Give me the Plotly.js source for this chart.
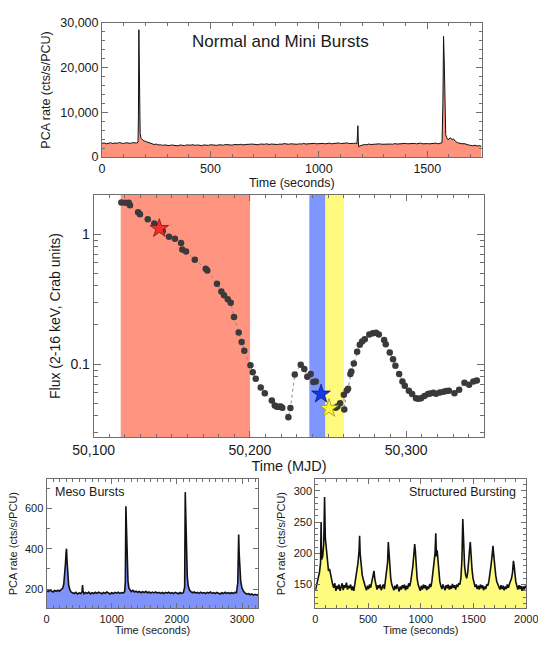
<!DOCTYPE html>
<html><head><meta charset="utf-8">
<script src="https://cdn.plot.ly/plotly-3.0.1.min.js"></script>
<style>html,body{margin:0;padding:0;background:#fff}#chart{width:538px;height:648px}</style>
</head><body><div id="chart"></div>
<script>
// ---- Top panel: Normal and Mini Bursts (time in s, PCA rate cts/s/PCU)
const topT = [0,10,20,30,40,50,60,70,80,90,100,110,120,130,140,150,160,166,168,170,172,174,176,180,190,200,210,220,230,240,250,260,270,280,290,300,310,320,330,340,350,360,370,380,390,400,410,420,430,440,450,460,470,480,490,500,510,520,530,540,550,560,570,580,590,600,610,620,630,640,650,660,670,680,690,700,710,720,730,740,750,760,770,780,790,800,810,820,830,840,850,860,870,880,890,900,910,920,930,940,950,960,970,980,990,1000,1010,1020,1030,1040,1050,1060,1070,1080,1090,1100,1110,1120,1130,1140,1150,1160,1170,1176,1178,1180,1182,1184,1190,1200,1210,1220,1230,1240,1250,1260,1270,1280,1290,1300,1310,1320,1330,1340,1350,1360,1370,1380,1390,1400,1410,1420,1430,1440,1450,1460,1470,1480,1490,1500,1510,1520,1530,1540,1550,1560,1568,1572,1575,1578,1581,1585,1590,1595,1600,1605,1610,1615,1620,1625,1630,1640,1650,1660,1670,1680,1690,1700,1710,1720,1730,1740,1750];
const topRate = [3050,3150,2950,3100,3200,3000,3150,3050,3250,3100,3000,3200,3100,3050,3200,3100,3150,3300,9000,28500,18000,8000,5200,4200,3700,3500,3300,3200,3000,2800,2900,2700,2750,2600,2700,2650,2550,2700,2600,2650,2500,2700,2600,2550,2700,2600,2650,2750,2600,2700,2650,2550,2700,2650,2600,2750,2650,2700,2600,2750,2700,2650,2800,2700,2750,2650,2800,2700,2750,2850,2700,2800,2750,2850,2900,2800,2850,2750,2900,2800,2850,2950,2800,2900,2850,2950,2800,2900,2850,3000,2900,2850,2950,2900,3000,2850,2950,2900,3050,2900,2950,3000,2900,3050,2950,3000,2900,3050,2950,3000,3100,2950,3050,3000,3150,3000,3100,3050,3150,3000,3100,3050,3100,3000,5000,7000,3500,2300,2500,2700,2800,2750,2900,2800,2850,2900,2800,2950,2850,2900,2850,2950,2900,2850,3000,2900,2950,3000,2900,3050,2950,3000,2900,3050,2950,3000,3100,2950,3050,3000,2950,3050,3000,3100,2950,3050,3200,12000,27000,22000,9000,5000,4300,3900,4000,4300,4100,3900,4100,3700,3500,3200,3000,2950,3000,2800,2700,2600,2500,2650,2450,2550,2400];

// ---- Middle panel: light curve (MJD, flux in Crab units)
const mjd = [50117.7,50120.2,50122.4,50123.2,50128.4,50129.6,50134.6,50138.8,50142.0,50144.2,50148.2,50152.0,50155.9,50156.7,50159.1,50164.7,50171.7,50172.7,50178.9,50181.7,50183.4,50185.8,50187.7,50189.8,50192.8,50194.7,50196.4,50200.3,50201.8,50203.7,50206.9,50209.5,50214.0,50215.9,50217.2,50218.6,50219.7,50220.7,50224.6,50225.9,50228.7,50232.5,50234.8,50236.7,50238.9,50240.6,50242.1,50245.5,50250.6,50254.9,50256.0,50257.7,50260.1,50260.4,50262.0,50262.8,50264.3,50264.9,50266.5,50268.6,50270.3,50271.8,50273.5,50276.4,50278.6,50280.7,50282.5,50285.9,50286.9,50289.5,50291.6,50293.1,50295.5,50297.6,50299.1,50301.7,50303.8,50306.3,50307.8,50309.5,50311.7,50314.0,50315.3,50317.4,50319.1,50321.5,50323.8,50325.7,50327.3,50330.9,50333.9,50337.3,50340.3,50343.0,50345.2];
const flux = [1.752,1.74,1.74,1.67,1.476,1.425,1.30,1.208,1.105,1.06,0.954,0.92,0.853,0.762,0.736,0.634,0.541,0.526,0.415,0.362,0.339,0.316,0.296,0.230,0.175,0.148,0.127,0.098,0.0867,0.077,0.0662,0.0598,0.0526,0.0481,0.0469,0.0469,0.0473,0.0461,0.0391,0.0459,0.0833,0.0988,0.0916,0.0798,0.0838,0.0727,0.0736,0.0588,0.0456,0.0461,0.0473,0.0501,0.0581,0.0448,0.0628,0.0646,0.0838,0.0879,0.1012,0.1245,0.1407,0.1496,0.1556,0.169,0.173,0.174,0.169,0.153,0.1425,0.123,0.109,0.097,0.0838,0.0736,0.0681,0.0623,0.0588,0.0547,0.0541,0.0547,0.0568,0.0588,0.0595,0.0601,0.0591,0.0606,0.0612,0.062,0.0623,0.0598,0.0634,0.0718,0.0693,0.0736,0.0749];
const starMjd = [50142.0, 50245.5, 50250.6];
const starFlux = [1.105, 0.0588, 0.0456];
const regionStart = [50117.3, 50238.0, 50248.3];
const regionEnd = [50200.1, 50248.3, 50260.2];

// ---- Bottom-left: Meso Bursts
const mesoT = [0,25,50,75,100,125,150,175,200,225,250,265,280,292,300,307,315,325,340,360,380,400,425,450,475,500,525,545,553,560,575,600,625,650,675,700,725,750,775,800,825,850,875,900,925,950,975,1000,1025,1050,1075,1100,1125,1150,1175,1200,1210,1218,1225,1235,1250,1265,1285,1300,1325,1350,1375,1400,1425,1450,1475,1500,1525,1550,1575,1600,1625,1650,1675,1700,1725,1750,1775,1800,1825,1850,1875,1900,1925,1950,1975,2000,2025,2050,2075,2100,2120,2129,2135,2145,2160,2175,2195,2215,2240,2265,2290,2315,2340,2365,2390,2415,2440,2465,2490,2515,2540,2565,2590,2615,2640,2665,2690,2715,2740,2765,2790,2815,2840,2865,2890,2915,2935,2942,2949,2956,2965,2980,3000,3025,3050,3075,3100,3125,3150,3175,3200,3225,3250];
const mesoRate = [192,188,195,190,186,193,189,195,190,198,205,225,270,330,380,400,340,270,220,195,185,182,178,184,176,181,178,186,220,190,177,183,179,185,176,182,178,184,179,185,180,177,183,179,186,180,176,182,178,184,180,185,179,183,180,188,240,610,500,330,240,205,192,188,194,186,190,184,188,182,187,183,189,182,186,180,185,181,186,180,184,179,183,178,184,180,185,179,183,178,184,180,177,183,179,182,210,680,560,380,260,215,195,188,182,186,180,184,179,185,180,183,178,184,180,186,179,183,178,184,180,176,182,178,184,179,183,178,182,179,184,182,230,420,470,380,300,240,205,188,180,175,178,172,176,170,174,171,173];

// ---- Bottom-right: Structured Bursting
const structT = [0,10,20,30,40,50,55,60,70,80,88,95,105,115,125,135,145,155,165,175,185,195,205,215,225,235,245,255,265,275,285,295,305,315,325,335,345,355,365,375,385,395,405,415,420,425,435,445,455,465,475,485,495,505,515,525,535,545,556,565,575,585,595,605,615,625,635,645,655,665,675,685,692,698,705,715,725,735,745,755,765,775,785,795,805,815,825,835,845,855,865,875,885,895,905,915,925,935,942,948,955,965,975,985,995,1005,1015,1025,1035,1045,1055,1065,1075,1085,1095,1105,1115,1125,1135,1142,1148,1155,1162,1170,1180,1190,1200,1210,1220,1230,1240,1250,1260,1270,1280,1290,1300,1310,1320,1330,1340,1350,1360,1370,1380,1390,1398,1405,1415,1425,1435,1445,1455,1462,1469,1476,1485,1495,1505,1515,1525,1535,1545,1555,1565,1575,1585,1595,1605,1615,1625,1635,1645,1655,1665,1675,1684,1690,1700,1710,1720,1730,1740,1750,1760,1770,1780,1790,1800,1810,1820,1830,1840,1850,1860,1870,1878,1885,1892,1900,1910,1920,1930,1940,1950,1960,1970,1980,1990,2000];
const structRate = [140,148,155,160,170,185,250,190,195,215,290,225,205,180,172,175,165,160,150,145,152,140,148,143,150,140,147,152,141,149,145,153,142,148,144,150,141,147,140,152,160,170,185,205,228,200,180,165,158,150,146,141,148,143,150,145,155,165,172,158,147,142,149,144,150,141,146,150,143,155,168,185,218,200,175,160,150,145,141,148,143,150,144,139,147,142,149,144,150,141,148,143,152,147,155,165,180,200,215,205,180,160,150,145,140,148,142,150,144,149,141,147,143,151,146,155,168,185,200,232,195,205,190,170,155,148,143,150,145,141,149,144,150,142,148,143,151,145,149,142,150,146,152,150,160,190,255,210,180,165,160,170,185,205,218,195,175,160,152,146,150,143,148,142,150,144,149,141,147,143,150,148,155,165,180,195,212,200,180,165,155,150,146,142,149,143,148,141,147,143,150,145,151,155,160,170,188,180,165,155,148,142,149,143,148,140,147,142,148,144];

const FONT = 'Liberation Sans, Arial, Helvetica, sans-serif';
const W = 538, H = 648;
const dx = (a, b) => [a / W, b / W];
const dy = (top, bottom) => [1 - bottom / H, 1 - top / H];
const AX = '#6e6e6e';
const TXT = '#1a1a1a';
function f(size) { return {family: FONT, size: size, color: TXT, weight: 'normal'}; }
function axisBase(extra) {
  return Object.assign({
    showgrid: false, zeroline: false, showline: true, linecolor: AX, linewidth: 1,
    mirror: 'allticks', ticks: 'inside', ticklen: 6, tickcolor: AX, tickwidth: 1,
    ticklabeloverflow: 'allow', tickfont: f(12),
  }, extra);
}

const regionColors = ['#ff9580', '#8096ff', '#fffa7d'];
const shapes = regionStart.map((s, i) => ({
  type: 'rect', xref: 'x2', yref: 'y2 domain', x0: s, x1: regionEnd[i], y0: 0, y1: 1,
  fillcolor: regionColors[i], line: {width: 0}, layer: 'below'
}));

const traces = [
  {x: topT, y: topRate, xaxis: 'x', yaxis: 'y', type: 'scatter', mode: 'lines',
   fill: 'tozeroy', fillcolor: '#ff927c', line: {color: '#111', width: 1}, hoverinfo: 'skip'},
  {x: mjd, y: flux, xaxis: 'x2', yaxis: 'y2', type: 'scatter', mode: 'lines+markers',
   line: {color: '#8a8a8a', width: 1, dash: 'dot'},
   marker: {color: '#3a3a3a', size: 6.5}},
  {x: starMjd, y: starFlux, xaxis: 'x2', yaxis: 'y2', type: 'scatter', mode: 'markers',
   marker: {symbol: 'star', size: 14, color: ['#f0302a', '#1238e8', '#fbf63c'],
            line: {color: ['#8a1010', '#0a1a80', '#9a9420'], width: 0.8}}},
  {x: mesoT, y: mesoRate, xaxis: 'x3', yaxis: 'y3', type: 'scatter', mode: 'lines',
   fill: 'tozeroy', fillcolor: '#7f93fb', line: {color: '#111', width: 1.6}},
  {x: structT, y: structRate, xaxis: 'x4', yaxis: 'y4', type: 'scatter', mode: 'lines',
   fill: 'tozeroy', fillcolor: '#fffb7e', line: {color: '#111', width: 1.6}},
];

const layout = {
  width: W, height: H, margin: {l: 0, r: 0, t: 0, b: 0},
  paper_bgcolor: '#fff', plot_bgcolor: 'rgba(0,0,0,0)', showlegend: false,
  font: {family: FONT, color: TXT},
  xaxis: axisBase({domain: dx(102, 481.5), anchor: 'y', range: [0, 1750], dtick: 500, tick0: 0,
    minor: {dtick: 100, ticklen: 3, tickcolor: AX, ticks: 'inside'},
    tickfont: f(12.5),
    title: {text: 'Time (seconds)', font: f(12.5), standoff: 2}}),
  yaxis: axisBase({domain: dy(23, 157), anchor: 'x', range: [0, 30000], dtick: 10000, tickformat: ',d',
    minor: {dtick: 2000, ticklen: 3, tickcolor: AX, ticks: 'inside'},
    tickfont: f(12.5),
    title: {text: 'PCA rate (cts/s/PCU)', font: f(12.5), standoff: 6}}),
  xaxis2: axisBase({domain: dx(93.7, 484.3), anchor: 'y2', range: [50100, 50350], tickvals: [50100, 50200, 50300],
    tickformat: ',d', minor: {dtick: 10, tick0: 50100, ticklen: 3, tickcolor: AX, ticks: 'inside'},
    tickfont: f(14),
    title: {text: 'Time (MJD)', font: f(14.5), standoff: 0}}),
  yaxis2: axisBase({domain: dy(195, 437), anchor: 'x2', type: 'log', range: [Math.log10(0.0275), Math.log10(2.0)],
    tickvals: [0.1, 1], ticktext: ['0.1', '1'], ticklen: 7,
    minor: {tickvals: [0.03,0.04,0.05,0.06,0.07,0.08,0.09,0.2,0.3,0.4,0.5,0.6,0.7,0.8,0.9,2], ticklen: 4, tickcolor: AX, ticks: 'inside'},
    tickfont: f(14),
    title: {text: 'Flux (2-16 keV, Crab units)', font: f(14), standoff: 6}}),
  xaxis3: axisBase({domain: dx(46.5, 258.3), anchor: 'y3', range: [0, 3250], dtick: 1000, tick0: 0,
    minor: {dtick: 100, ticklen: 3, tickcolor: AX, ticks: 'inside'}, ticklen: 5,
    tickfont: f(11),
    title: {text: 'Time (seconds)', font: f(11), standoff: 1}}),
  yaxis3: axisBase({domain: dy(479, 608.3), anchor: 'x3', range: [105, 745], tickvals: [200, 400, 600], ticklen: 5,
    minor: {dtick: 100, tick0: 0, ticklen: 3, tickcolor: AX, ticks: 'inside'},
    tickfont: f(11),
    title: {text: 'PCA rate (cts/s/PCU)', font: f(11), standoff: 5}}),
  xaxis4: axisBase({domain: dx(315.3, 526.3), anchor: 'y4', range: [0, 2000], tickvals: [0, 500, 1000, 1500, 2000], ticklen: 5,
    minor: {dtick: 100, ticklen: 3, tickcolor: AX, ticks: 'inside'},
    tickfont: f(11),
    title: {text: 'Time (seconds)', font: f(11), standoff: 1}}),
  yaxis4: axisBase({domain: dy(479, 608.3), anchor: 'x4', range: [112, 319], tickvals: [150, 200, 250, 300], ticklen: 5,
    minor: {dtick: 10, tick0: 0, ticklen: 3, tickcolor: AX, ticks: 'inside'},
    tickfont: f(11),
    title: {text: 'PCA rate (cts/s/PCU)', font: f(11), standoff: 5}}),
  shapes: shapes,
  annotations: [
    {text: 'Normal and Mini Bursts', xref: 'x domain', yref: 'y domain', x: 0.47, y: 0.86,
     xanchor: 'center', yanchor: 'middle', showarrow: false, font: f(17)},
    {text: 'Meso Bursts', xref: 'x3 domain', yref: 'y3 domain', x: 0.03, y: 0.9,
     xanchor: 'left', yanchor: 'middle', showarrow: false, font: f(12.5)},
    {text: 'Structured Bursting', xref: 'x4 domain', yref: 'y4 domain', x: 0.96, y: 0.9,
     xanchor: 'right', yanchor: 'middle', showarrow: false, font: f(12.5)},
  ],
};

Plotly.newPlot('chart', traces, layout, {displayModeBar: false, staticPlot: true});
</script>
</body></html>
